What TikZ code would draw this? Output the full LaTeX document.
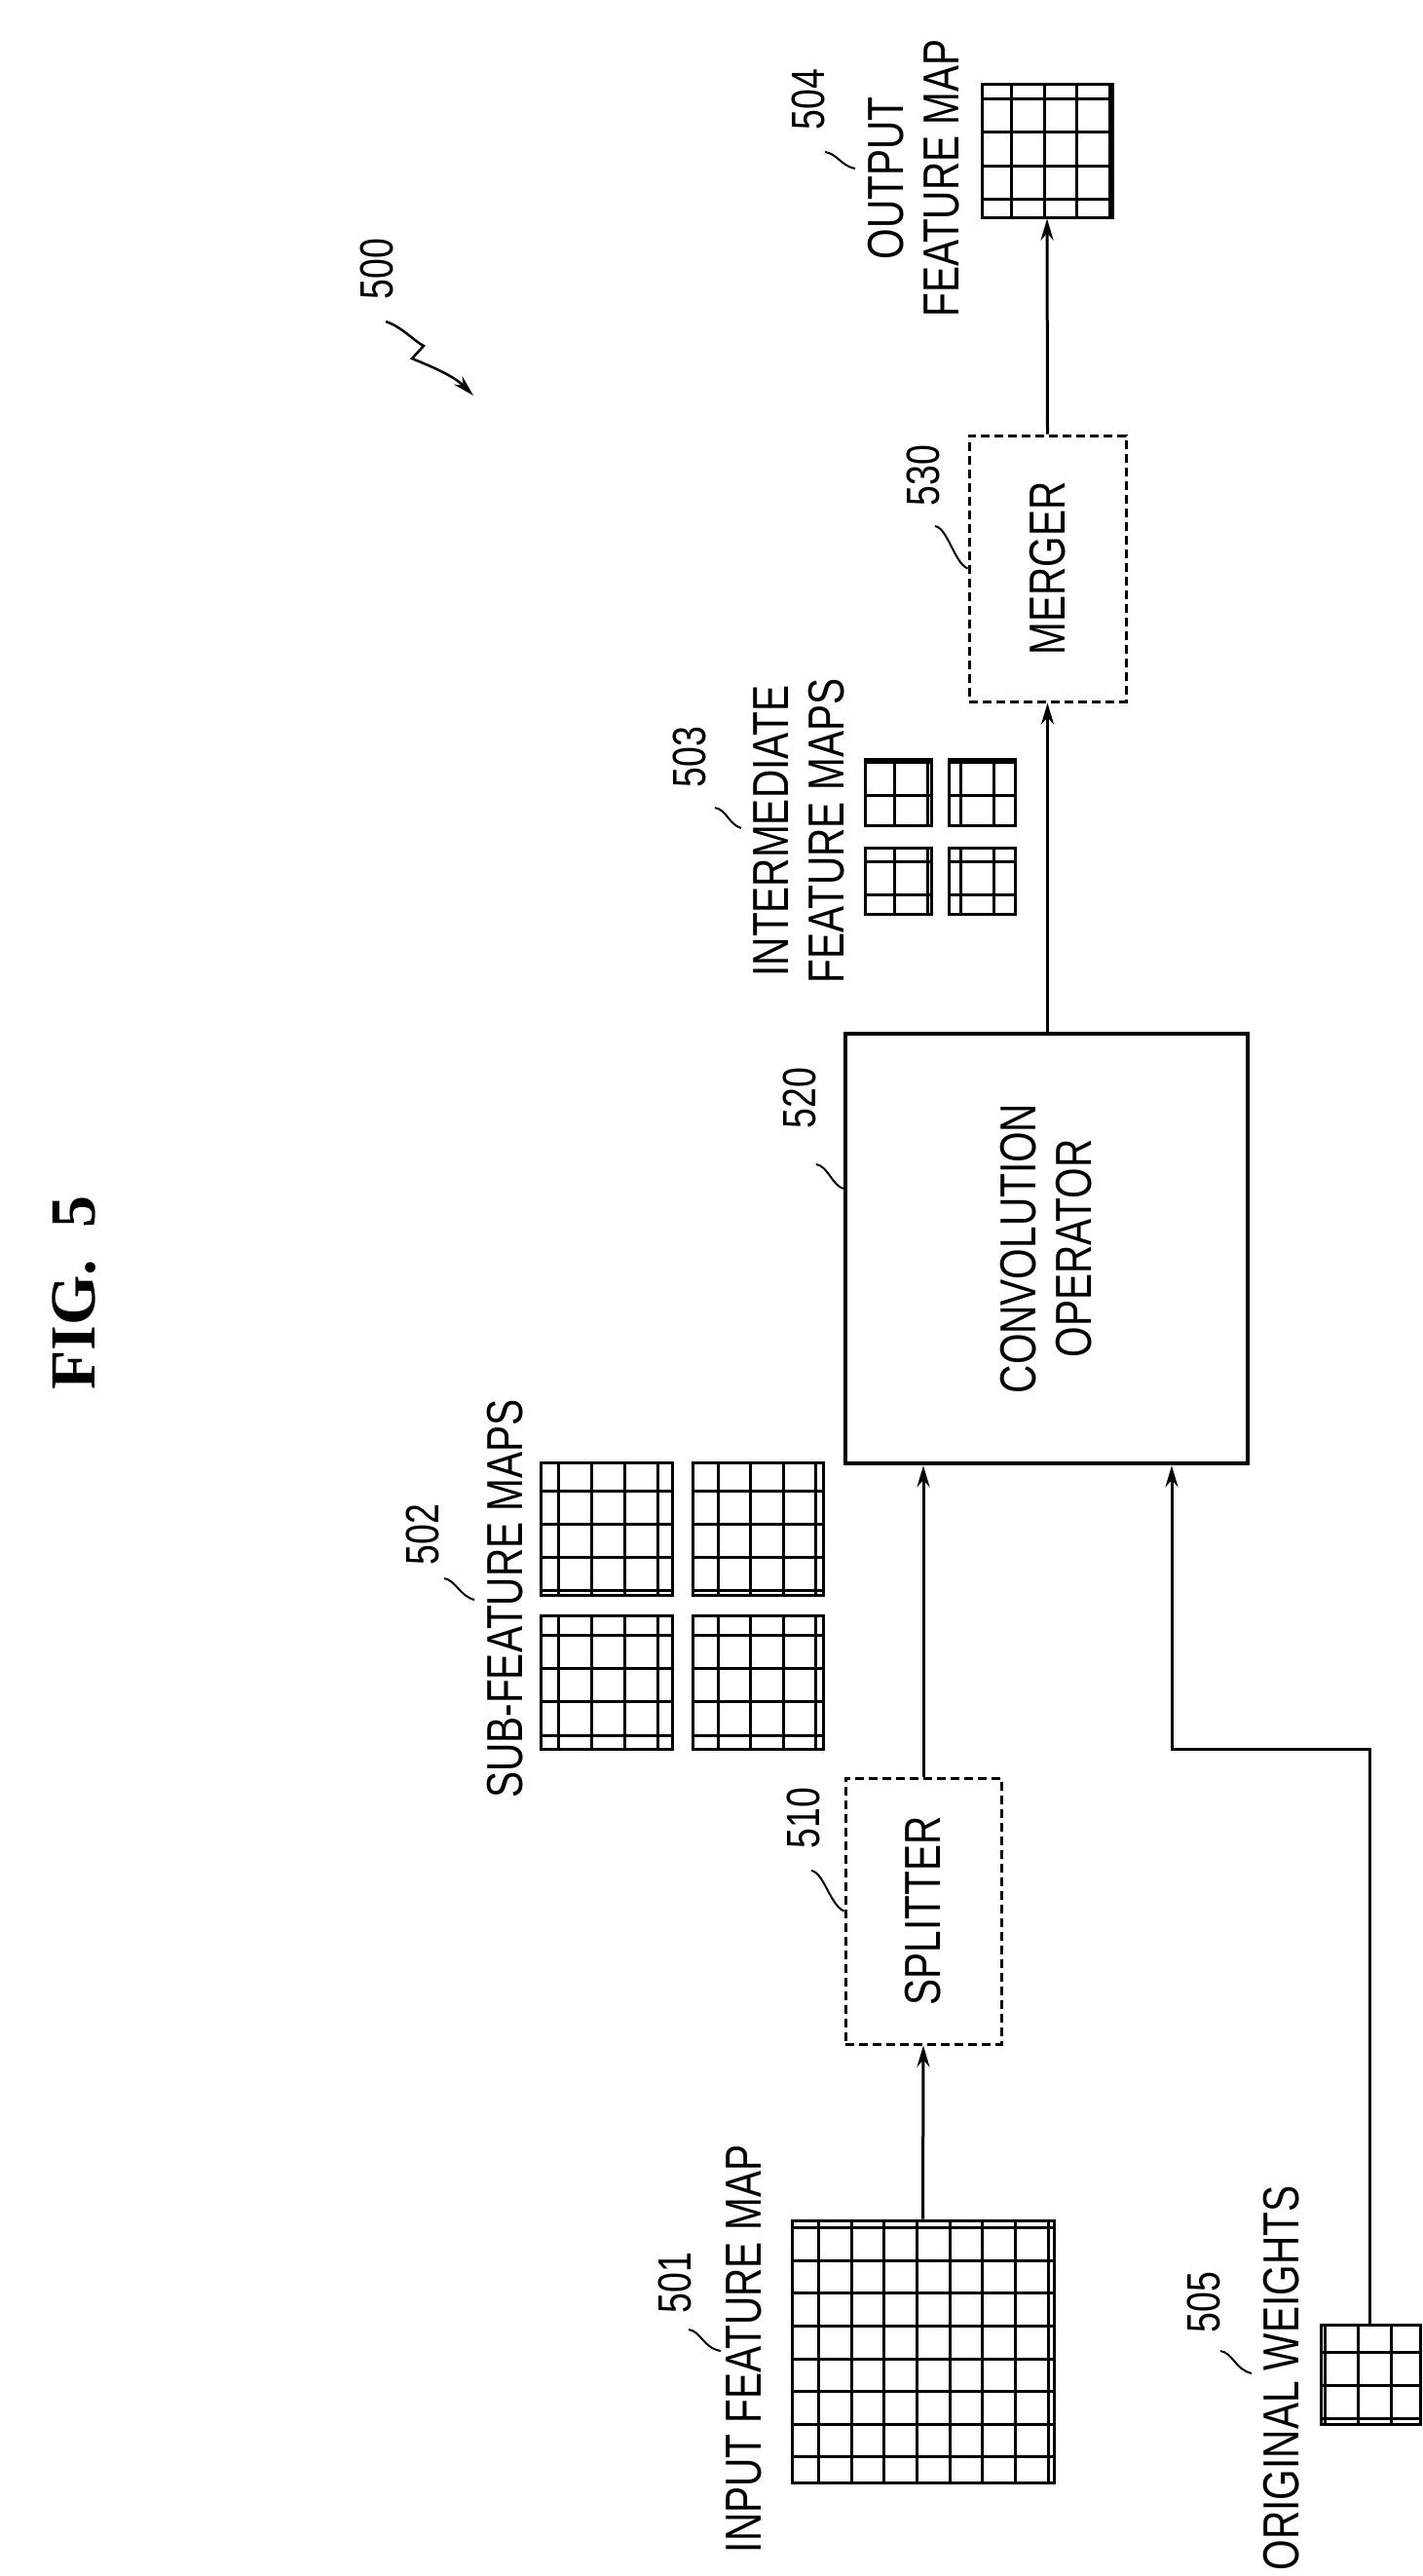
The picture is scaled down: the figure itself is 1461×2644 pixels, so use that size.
\documentclass[tikz,border=0pt]{standalone}
\usepackage{fontspec}
\setmainfont[FakeStretch=0.78]{Liberation Sans}
\newfontfamily\figfont{Liberation Serif}
\usetikzlibrary{arrows.meta}
\begin{document}
\begin{tikzpicture}[x=1pt,y=-1pt,
  ln/.style={line width=3pt},
  lbl/.style={rotate=90,font=\fontsize{52}{57}\selectfont,inner sep=0pt,align=center},
  num/.style={rotate=90,font=\fontsize{48}{52}\selectfont,inner sep=0pt},
  box/.style={draw,line width=3pt,dash pattern=on 9pt off 5pt,inner sep=0pt},
  fm/.style={draw,line width=3pt,inner sep=0pt},
  arr/.style={line width=3pt,-{Stealth[length=22pt,width=13pt]}},
  lead/.style={line width=2pt}]
\useasboundingbox (0,0) rectangle (1461,2644);
% grids
\node[fm,minimum width=269pt,minimum height=269pt] (in) at (947.5,2413.5) {};
\draw[line width=3pt] (813,2279) grid[step=33.625pt] (1082,2548);
\node[fm,minimum width=135pt,minimum height=136pt] (s1) at (622.5,1569) {};
\draw[line width=3pt] (555,1501) grid[xstep=33.75pt,ystep=34pt] (690,1637);
\node[fm,minimum width=134pt,minimum height=136pt] (s2) at (778,1569) {};
\draw[line width=3pt] (711,1501) grid[xstep=33.5pt,ystep=34pt] (845,1637);
\node[fm,minimum width=135pt,minimum height=137pt] (s3) at (622.5,1726.5) {};
\draw[line width=3pt] (555,1658) grid[xstep=33.75pt,ystep=34.25pt] (690,1795);
\node[fm,minimum width=134pt,minimum height=137pt] (s4) at (778,1726.5) {};
\draw[line width=3pt] (711,1658) grid[xstep=33.5pt,ystep=34.25pt] (845,1795);
\node[fm,minimum width=102pt,minimum height=102pt] (w) at (1407,2437) {};
\draw[line width=3pt] (1356,2386) grid[step=34pt] (1458,2488);
\node[fm,minimum width=68pt,minimum height=68pt] (i1) at (922,813) {};
\draw[line width=3pt] (888,779) grid[step=34pt] (956,847);
\node[fm,minimum width=68pt,minimum height=68pt] (i2) at (1008,813) {};
\draw[line width=3pt] (974,779) grid[step=34pt] (1042,847);
\node[fm,minimum width=68pt,minimum height=68pt] (i3) at (922,904) {};
\draw[line width=3pt] (888,870) grid[step=34pt] (956,938);
\node[fm,minimum width=68pt,minimum height=68pt] (i4) at (1008,904) {};
\draw[line width=3pt] (974,870) grid[step=34pt] (1042,938);
\node[fm,minimum width=134pt,minimum height=136pt] (out) at (1075,155) {};
\draw[line width=3pt] (1008,87) grid[xstep=33.5pt,ystep=34pt] (1142,223);
% boxes
\node[box,minimum width=160pt,minimum height=273pt] (spl) at (948,1961.5) {};
\node[lbl] at (spl) {SPLITTER};
\node[box,minimum width=161pt,minimum height=273pt] (mrg) at (1075.5,583.5) {};
\node[lbl] at (mrg) {MERGER};
\node[draw,line width=4.5pt,minimum width=413pt,minimum height=441pt,inner sep=0pt] (conv) at (1074.5,1281.5) {};
\node[lbl] at (conv) {CONVOLUTION\\OPERATOR};
% connectors
\draw[arr] (in.north) -- (spl.south);
\draw[arr] (spl.north) -- (spl.north |- conv.south);
\coordinate (c1) at (1406,1795);
\coordinate (c2) at (1203,1795);
\draw[arr] (w.north -| c1) -- (c1) -- (c2) -- (c2 |- conv.south);
\draw[arr] (conv.north -| mrg) -- (mrg.south);
\draw[arr] (mrg.north) -- (out.south);
% labels
\node[lbl] (t1) at (764,2411) {INPUT FEATURE MAP};
\node[lbl] (t5) at (1316,2441) {ORIGINAL WEIGHTS};
\node[lbl] (t2) at (519,1641) {SUB-FEATURE MAPS};
\node[lbl] (t4) at (938,183) {OUTPUT\\FEATURE MAP};
\node[lbl] (t3) at (820,853) {INTERMEDIATE\\FEATURE MAPS};
\node[num] (n501) at (693,2343) {501};
\node[num] (n505) at (1236,2363) {505};
\node[num] (n502) at (434,1575) {502};
\node[num] (n510) at (825,1866) {510};
\node[num] (n520) at (821,1127) {520};
\node[num] (n530) at (948,488) {530};
\node[num] (n503) at (708,777) {503};
\node[num] (n504) at (830,102) {504};
\node[num] (n500) at (387,276) {500};
\node[rotate=90,font=\figfont\bfseries\fontsize{66}{70}\selectfont,inner sep=0pt] (fig) at (76,1327) {FIG.~~5};
% leaders
\draw[lead] (707,2391) .. controls (720,2393) and (722,2410) .. (740,2413);
\draw[lead] (1253,2413) .. controls (1266,2415) and (1268,2432) .. (1285,2436);
\draw[lead] (456,1620) .. controls (468,1622) and (472,1638) .. (487,1642);
\draw[lead] (833,1920) .. controls (846,1922) and (852,1955) .. (spl.west);
\draw[lead] (838,1195) .. controls (850,1197) and (854,1216) .. (conv.west |- 0,1220);
\draw[lead] (960,540) .. controls (973,542) and (980,578) .. (mrg.west);
\draw[lead] (734,829) .. controls (746,831) and (748,846) .. (761,850);
\draw[lead] (847,156) .. controls (860,158) and (863,170) .. (878,173);
\draw[line width=2.5pt,-{Stealth[length=22pt,width=12pt]}] (396,330) .. controls (412,335) and (425,350) .. (435,355) -- (423,368) .. controls (440,375) and (465,385) .. (486,406);
\end{tikzpicture}
\end{document}
